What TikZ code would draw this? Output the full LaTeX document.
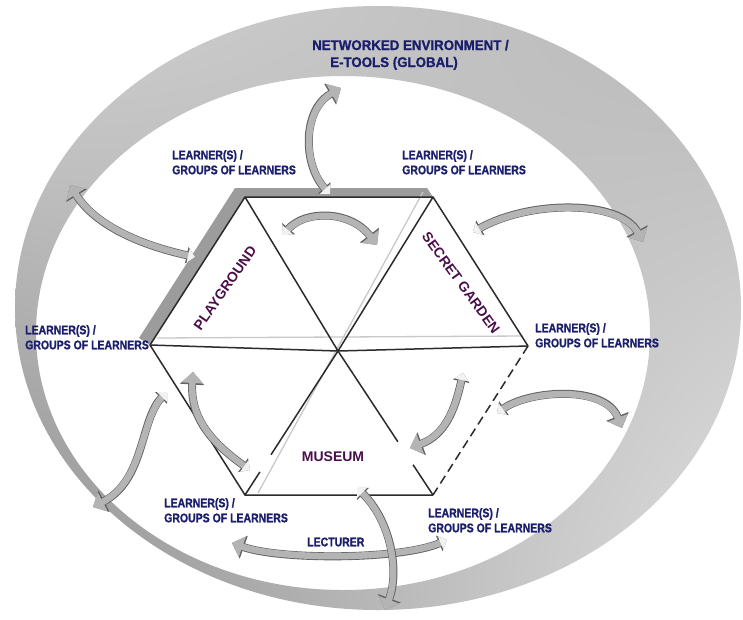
\documentclass[tikz,border=0pt]{standalone}
\usepackage{fontspec}
\setmainfont{Liberation Sans}
\newfontfamily\lblfont[FakeStretch=0.84,FakeBold=1.2]{Liberation Sans Bold}
\newfontfamily\ttlfont[FakeStretch=0.95,FakeBold=1.2]{Liberation Sans Bold}
\usetikzlibrary{arrows.meta,calc,shadings}
\definecolor{lnavy}{HTML}{1B1F6B}
\definecolor{lplum}{HTML}{4A0F4A}
\definecolor{lline}{HTML}{2B2B2B}
\definecolor{lfaint}{HTML}{C9C9C9}
\definecolor{lband}{HTML}{9C9C9C}
\definecolor{lbody}{HTML}{B4B4B4}
\definecolor{ledge}{HTML}{626262}
\definecolor{ltail}{HTML}{F2F2F2}
\tikzset{
  learner/.style={anchor=north west,inner sep=0pt,align=left,text=lnavy,font=\lblfont\fontsize{12.5}{15}\selectfont},
  room/.style={inner sep=0pt,text=lplum,font=\bfseries\fontsize{14}{16}\selectfont},
  title/.style={anchor=base west,inner sep=0pt,text=lnavy,font=\ttlfont\fontsize{14}{17}\selectfont},
  hexline/.style={draw=lline,line width=1.5pt},
  faint/.style={draw=lfaint,line width=1.3pt},
  flow/.style={draw=lbody,line width=6.5pt,{Triangle[length=7pt,width=14pt,color=ltail]}-{Triangle[length=11pt,width=21pt]},
    preaction={draw=ledge,line width=8pt,{Triangle[length=8.5pt,width=16.5pt]}-{Triangle[length=12.5pt,width=23.5pt]}}},
}

\begin{document}
\begin{tikzpicture}[x=1pt,y=-1pt]
  \useasboundingbox (0,0) rectangle (743,619);
  \fill[white] (0,0) rectangle (743,619);
  \shade[even odd rule,upper left=black!18,upper right=black!28,lower left=black!44,lower right=black!12]
    (378,308) ellipse [x radius=363,y radius=302] (343,333) ellipse [x radius=307,y radius=257];

  \coordinate (tl) at (245,197);
  \coordinate (tr) at (433,197);
  \coordinate (r) at (528,346);
  \coordinate (br) at (433,495);
  \coordinate (bl) at (245,495);
  \coordinate (l) at (150,345);
  \coordinate (c) at (338,351);

  \fill[lband] (l) -- (139,338) -- (235,188) -- (427,188) -- (tr) -- (tl) -- cycle;
  \draw[faint] (157,338) -- (523,336);
  \draw[faint] (423,192) -- (258,493);
  \draw[hexline] (l) -- (tl) -- (tr) -- (r);
  \draw[hexline,dash pattern=on 9pt off 5pt] (r) -- (br);
  \draw[hexline] (br) -- (bl) -- (l);
  \draw[hexline] (l) -- (c) -- (r);
  \draw[hexline] (tl) -- (c) -- ($(c)!0.63!(br)$);
  \draw[hexline] ($(c)!0.79!(br)$) -- (br);
  \draw[hexline] (tr) -- (c) -- ($(c)!0.72!(bl)$);
  \draw[hexline] ($(c)!0.84!(bl)$) -- (bl);

  \coordinate (a1s) at (330,194); \coordinate (a1e) at (341,88);
  \coordinate (a2s) at (195,257); \coordinate (a2e) at (70,185);
  \coordinate (a3s) at (283,235); \coordinate (a3e) at (377,245);
  \coordinate (a4s) at (473,232); \coordinate (a4e) at (643,242);
  \coordinate (a5s) at (497,413); \coordinate (a5e) at (622,428);
  \coordinate (a6s) at (463,373); \coordinate (a6e) at (410,448);
  \coordinate (a7s) at (250,470); \coordinate (a7e) at (193,372);
  \coordinate (a8s) at (167,392); \coordinate (a8e) at (93,507);
  \coordinate (a9s) at (447,540); \coordinate (a9e) at (232,543);
  \coordinate (a10s) at (357,488); \coordinate (a10e) at (385,610);
  \draw[flow] (a1s) .. controls (303,165) and (302,110) .. (a1e);
  \draw[flow] (a2s) .. controls (140,245) and (95,225) .. (a2e);
  \draw[flow] (a3s) .. controls (305,210) and (350,210) .. (a3e);
  \draw[flow] (a4s) .. controls (530,200) and (620,200) .. (a4e);
  \draw[flow] (a5s) .. controls (530,390) and (605,385) .. (a5e);
  \draw[flow] (a6s) .. controls (455,410) and (445,435) .. (a6e);
  \draw[flow] (a7s) .. controls (215,445) and (190,420) .. (a7e);
  \draw[flow] (a8s) .. controls (140,420) and (145,480) .. (a8e);
  \draw[flow] (a9s) .. controls (400,560) and (280,560) .. (a9e);
  \draw[flow] (a10s) .. controls (390,520) and (400,570) .. (a10e);

  \node[title] (net) at (312,50) {NETWORKED ENVIRONMENT /};
  \node[title] (etools) at (330,67) {E-TOOLS (GLOBAL)};
  \node[learner] (lrnTL) at (172,150) {LEARNER(S) /\\GROUPS OF LEARNERS};
  \node[learner] (lrnTR) at (402,150) {LEARNER(S) /\\GROUPS OF LEARNERS};
  \node[learner] (lrnL) at (25,325) {LEARNER(S) /\\GROUPS OF LEARNERS};
  \node[learner] (lrnR) at (535,323) {LEARNER(S) /\\GROUPS OF LEARNERS};
  \node[learner] (lrnBL) at (164,498) {LEARNER(S) /\\GROUPS OF LEARNERS};
  \node[learner] (lrnBR) at (428,508) {LEARNER(S) /\\GROUPS OF LEARNERS};
  \node[learner,anchor=west] (lect) at (307,542) {LECTURER};
  \node[room,rotate=55] (play) at (225,288) {PLAYGROUND};
  \node[room,rotate=-54] (garden) at (461,283) {SECRET GARDEN};
  \node[room] (museum) at (333,457) {MUSEUM};
\end{tikzpicture}
\end{document}
